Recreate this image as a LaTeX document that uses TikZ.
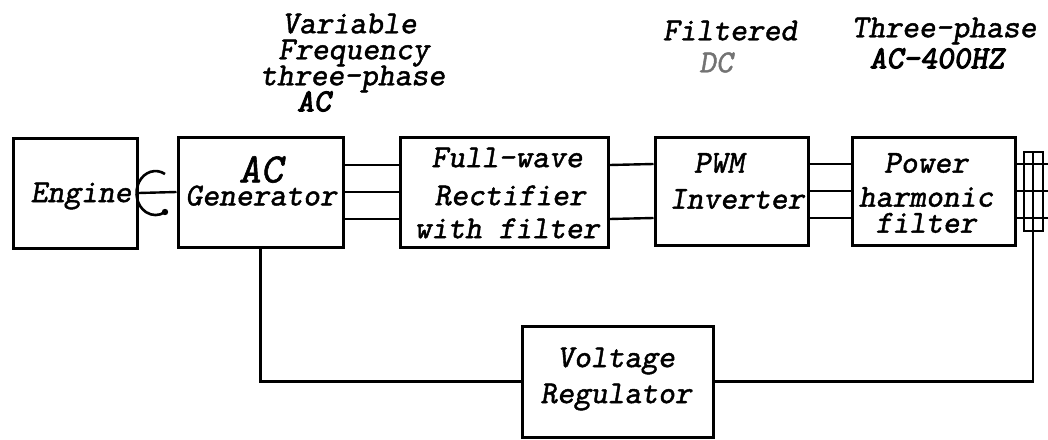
\documentclass[tikz,border=0pt]{standalone}
\usepackage{fontspec}
\newfontfamily\cour{lmmonoslant10-regular.otf}[FakeBold=1.4]
\newfontfamily\courb{lmmonoslant10-regular.otf}[FakeBold=3.2]
\begin{document}
\begin{tikzpicture}[x=1pt,y=-1pt,
  blk/.style={draw,line width=3pt,inner sep=0pt},
  wire/.style={line width=2.4pt},
  txt/.style={inner sep=0pt,font={\cour\fontsize{32}{26}\selectfont\lineskiplimit=-100pt}}]
\useasboundingbox (0,0) rectangle (1048,439);
% boxes
\node[blk,minimum width=124pt,minimum height=110pt] (eng) at (75,193) {};
\node[blk,minimum width=165pt,minimum height=110pt] (gen) at (260.5,192) {};
\node[blk,minimum width=208pt,minimum height=110pt] (rect) at (504,192) {};
\node[blk,minimum width=153pt,minimum height=108pt] (pwm) at (731.5,191) {};
\node[blk,minimum width=163pt,minimum height=108pt] (filt) at (933.5,191) {};
\node[blk,minimum width=191pt,minimum height=111pt] (vr) at (617.5,381.5) {};
% box texts
\node[txt] (engT) at (81,196) {Engine};
\node[txt,align=center] (genT) at (261,181)
  {{\fontsize{42}{26}\selectfont AC}\\[-3pt]Generator};
\node[txt,align=center] (rectT) at (507,193)
  {Full-wave\\[12pt]\hspace*{6pt}Rectifier\\[7pt]with filter};
\node[txt,align=center] (pwmT) at (737,181)
  {PWM\hspace*{36pt}\\[10pt]Inverter};
\node[txt,align=center] (filtT) at (926,193)
  {Power\\[8pt]harmonic\\filter};
\node[txt,align=center] (vrT) at (616,379)
  {Voltage\\[10pt]Regulator};
% top labels
\node[txt,align=left,anchor=north west] (lab1) at (260,13.5)
  {\hspace*{22pt}Variable\\\hspace*{18pt}Frequency\\three-phase\\\hspace*{37pt}{\courb AC}};
\node[txt,align=center,anchor=north] (lab2) at (730,20.5)
  {Filtered\\[6pt]{\color{black!55}DC}\hspace*{28pt}};
\node[txt,align=center,anchor=north] (lab3) at (944,17.5)
  {Three-phase\\[5pt]{\courb AC-400HZ}\hspace*{14pt}};
% shaft and rotation symbol
\draw[wire] (eng.east) -- (gen.west);
\draw[line width=2.6pt] (165,174) arc[start angle=60,end angle=300,x radius=19pt,y radius=22pt];
\fill (165,212) circle (3.2pt);
% three-phase lines
\foreach \d in {27,0,-27}{
  \draw[wire] ([yshift=\d pt]gen.east) -- ([yshift=\d pt]rect.west);
  \draw[wire] ([yshift=\d pt]pwm.east) -- ([yshift=\d pt]filt.west);
}
\foreach \d in {27,-27}{
  \draw[wire] ([yshift=\d pt]rect.east) -- ([yshift=\d pt]pwm.west);
}
% output connector
\coordinate (oE) at (1048,191);
\foreach \d in {27,0,-27}{
  \draw[wire] ([yshift=\d pt]filt.east) -- ([yshift=\d pt]oE);
}
\coordinate (cTL) at (1024,152);
\coordinate (cBR) at (1043,231);
\coordinate (cMt) at (1033,152);
\coordinate (cMb) at (1033,231);
\draw[line width=2pt] (cTL) rectangle (cBR);
\draw[line width=2pt] (cMt) -- (cMb);
% feedback
\draw[wire] (gen.south) |- (vr.west);
\draw[wire] (vr.east) -| (cMb);
\end{tikzpicture}
\end{document}
